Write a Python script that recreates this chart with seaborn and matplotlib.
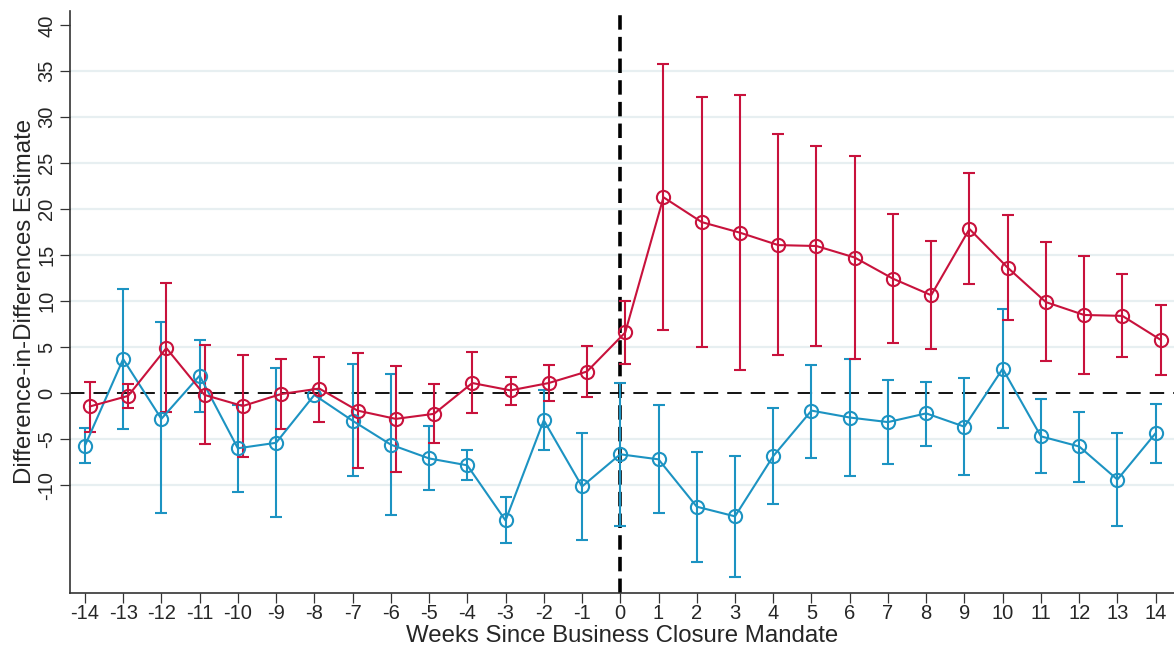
import numpy as np
import pandas as pd
import seaborn as sns
import matplotlib
matplotlib.use("Agg")
import matplotlib.pyplot as plt

weeks = list(range(-14, 15))

red_est = [-1.45, -0.3, 4.9, -0.2, -1.4, -0.1, 0.5, -1.9, -2.8, -2.25, 1.1, 0.3, 1.1, 2.35,
           6.6, 21.3, 18.6, 17.45, 16.1, 16.0, 14.75, 12.45, 10.65, 17.85, 13.65, 9.9, 8.5, 8.4, 5.8]
red_hi = [1.2, 1.0, 12.0, 5.25, 4.1, 3.7, 3.95, 4.4, 3.0, 1.0, 4.5, 1.8, 3.1, 5.15,
          10.0, 35.75, 32.25, 32.45, 28.15, 26.9, 25.8, 19.5, 16.5, 23.9, 19.35, 16.45, 14.9, 12.95, 9.6]
red_lo = [-4.2, -1.6, -2.1, -5.55, -6.9, -3.9, -3.1, -8.1, -8.6, -5.45, -2.2, -1.3, -0.9, -0.4,
          3.2, 6.85, 5.0, 2.5, 4.1, 5.1, 3.7, 5.4, 4.8, 11.85, 7.95, 3.5, 2.1, 3.95, 2.0]

blue_est = [-5.73, 3.7, -2.8, 1.9, -6.0, -5.4, -0.2, -3.0, -5.6, -7.1, -7.85, -13.85, -2.95, -10.15,
            -6.65, -7.2, -12.35, -13.4, -6.85, -1.9, -2.65, -3.15, -2.2, -3.65, 2.65, -4.7, -5.8, -9.4, -4.35]
blue_hi = [-3.8, 11.3, 7.7, 5.8, -1.3, 2.7, np.nan, 3.15, 2.1, -3.55, -6.15, -11.35, 0.35, -4.35,
           1.15, -1.3, -6.35, -6.8, -1.6, 3.1, 3.7, 1.4, 1.26, 1.6, 9.1, -0.65, -2.0, -4.3, -1.2]
blue_lo = [-7.6, -3.9, -13.0, -2.0, -10.7, -13.5, np.nan, -9.05, -13.2, -10.5, -9.5, -16.3, -6.2, -15.95,
           -14.4, -13.0, -18.4, -20.0, -12.1, -7.0, -9.05, -7.7, -5.7, -8.9, -3.8, -8.65, -9.65, -14.5, -7.55]

y_ticks = list(range(-10, 45, 5))
x_label = "Weeks Since Business Closure Mandate"
y_label = "Difference-in-Differences Estimate"

RED = "#c8123c"
BLUE = "#1c93c2"

sns.set_style("white")
plt.rcParams['font.family'] = ['Liberation Sans', 'DejaVu Sans']

fig = plt.figure(figsize=(11.74, 6.52), dpi=100)
ax = fig.add_axes([0.0596, 0.091, 0.9404, 0.892])

wk = np.array(weeks, dtype=float)
df_blue = pd.DataFrame({"week": wk, "est": blue_est})
df_red = pd.DataFrame({"week": wk + 0.13, "est": red_est})

# gridlines
for v in y_ticks:
    if v not in (0, 40):
        ax.axhline(v, color="#e7eff1", lw=1.6, zorder=0)

ax.axhline(0, color="black", lw=1.3, dashes=(8, 5), zorder=1)
ax.axvline(0, color="black", lw=2.6, dashes=(4, 2), zorder=1)

for df, hi, lo, col in [(df_blue, blue_hi, blue_lo, BLUE), (df_red, red_hi, red_lo, RED)]:
    est = df["est"].to_numpy()
    hi = np.array(hi)
    lo = np.array(lo)
    m = ~np.isnan(hi)
    ax.errorbar(df["week"].to_numpy()[m], est[m], yerr=[est[m] - lo[m], hi[m] - est[m]],
                fmt="none", ecolor=col, elinewidth=1.5, capsize=4.3, capthick=1.5, zorder=2)
    sns.lineplot(data=df, x="week", y="est", ax=ax, color=col, lw=1.5, marker="o",
                 markersize=9.5, markerfacecolor="none", markeredgecolor=col,
                 markeredgewidth=1.5, zorder=3)

ax.set_xlim(-14.39, 14.48)
ax.set_ylim(-21.7, 41.55)
ax.set_xticks(weeks)
ax.set_xticklabels([str(w) for w in weeks])
ax.set_yticks(y_ticks)
ax.set_yticklabels([str(v) for v in y_ticks], rotation=90, va="center")
ax.tick_params(axis="both", which="major", direction="out", length=7.5, width=0.9,
               color="#333333", labelsize=14.5, pad=2.5)
ax.tick_params(axis="x", pad=1)
ax.tick_params(axis="both", bottom=True, left=True)
ax.set_xlabel(x_label, fontsize=17.3, labelpad=1)
ax.set_ylabel(y_label, fontsize=17.3, labelpad=1)

for s in ["top", "right"]:
    ax.spines[s].set_visible(False)
for s in ["left", "bottom"]:
    ax.spines[s].set_color("#333333")
    ax.spines[s].set_linewidth(1.2)

fig.savefig("out.png", dpi=100)
